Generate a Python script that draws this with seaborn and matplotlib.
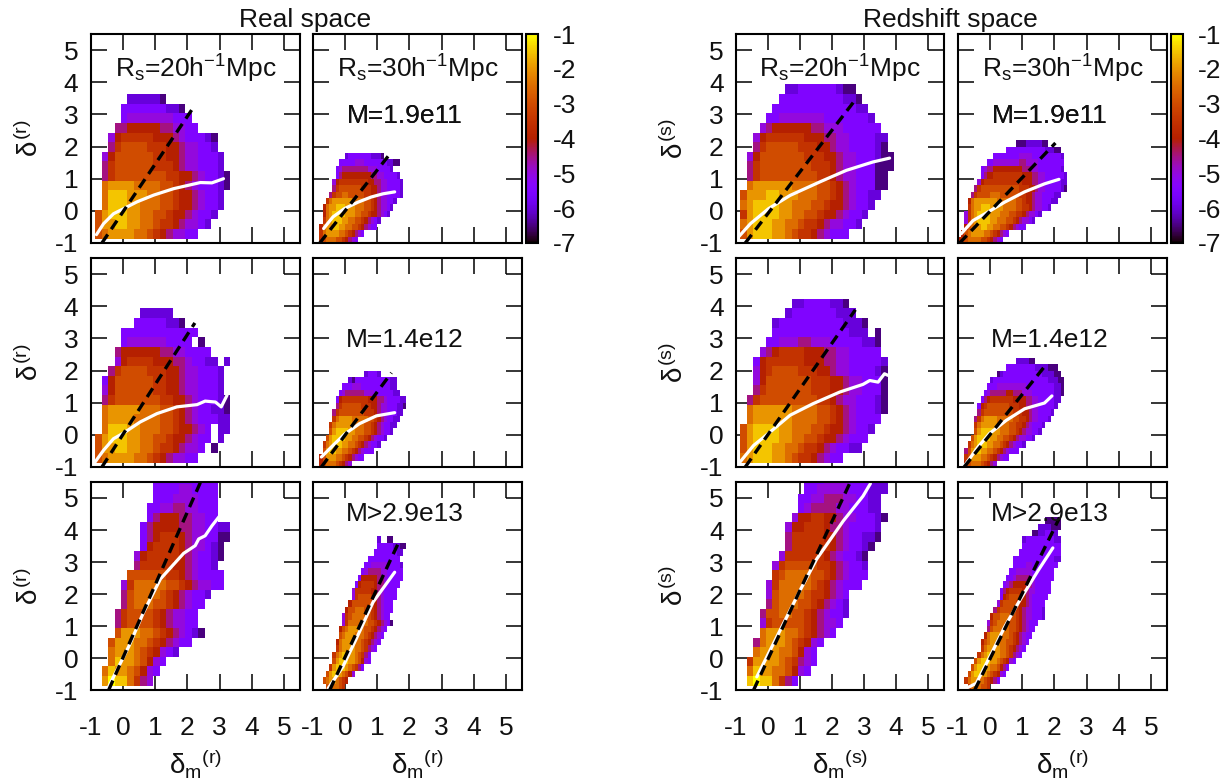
#!/usr/bin/env python3
"""Halo vs matter overdensity: conditional distributions, real and redshift space."""

import numpy as np
import pandas as pd
import matplotlib
matplotlib.use("Agg")
import matplotlib.pyplot as plt
import seaborn as sns

W, H = 1225, 781
# one character per cell, half-dex steps: '0' = -1, '1' = -1.5 ... 'c' = -7, '.' = empty
CODES = "0123456789abc"

# rows from the bottom: (first column, cell codes)
REAL_20_M1 = [
    (0, "4322223345678899"), (0, "42211223345567889a"), (0, "421112233445667899a"),
    (1, "311122333445667899a"), (1, "311122233445667899a"), (1, "322223333445678999ab"),
    (1, "754444444455667899ab"), (1, "754444445556788999a"), (1, "864444445566788999a"),
    (2, "7544445556678899a"), (2, "865555566678999ab"), (3, "7766666778899"),
    (4, "98888888999"), (4, "9999999aab"), (5, "aaaaab"),
]
REAL_30_M1 = [
    (2, "543334456789"), (2, "53222233456789"), (2, "632211223344567899"),
    (3, "53211122334456789a"), (3, "63211112223344566789a"), (3, "632211122233344567889a"),
    (4, "532222223333445678899a"), (5, "7544334444455667889999a"), (6, "754444444555667889999a"),
    (6, "865555555556677889999a"), (7, "9766666666677889999a"), (7, "98777777778889999a"),
    (8, "999998889999999aabb"), (10, "a9999999aaab"),
]
REAL_20_M2 = [
    (0, "4322223345678899"), (0, "42211223345567889.b"), (0, "421112233445667899.a"),
    (1, "31112233344566789.aa"), (1, "322223333445678999aa"), (1, "32222233344567899aab"),
    (1, "75444444455667899 9ab"), (1, "864444445566788999a"), (1, "964444445566788999a"),
    (2, "75444455566788999a"), (3, "86555566677899aa.a"), (3, "766666677889999"),
    (4, "98888889999.b"), (4, "999999999999"), (6, "99999aab"), (7, "aaaaa"),
]
REAL_30_M2 = [
    (2, "6433345678"), (2, "64222334567899"), (3, "4211223345678999"),
    (3, "53211122334567899a"), (4, "421111223344567899a"), (5, "4211112233344567899a"),
    (5, "5322222333344567899aa"), (6, "5322223333344567899aa"),
    (6, "75444444445556788999aa"), (7, "7544444455566788999aab"),
    (7, "96555555556667789999aa"), (8, "98777777888999999aa"),
    (9, "999888999999999aa"), (11, "ab99999999999aa"), (16, "a999a"),
]
REAL_20_M3 = [
    (1, "20113578"), (1, "312234689"), (2, "312234689"), (2, "3222345689a"),
    (2, "4222334567899"), (3, "422233456789ab"), (3, "7544445678899"), (3, "7544445678899"),
    (4, "7433344567899"), (4, "7433334567899a"), (4, "8533333445678899"), (5, "444444556789999"),
    (6, "755555667899a"), (6, "865555567899ab"), (7, "96555567889ab"), (7, "976555678899bb"),
    (7, "976666778899aa"), (8, "97666778899"), (8, "99887788999"), (9, "9998888999"),
    (9, "9999889999"), (9, "9999999999"),
]
REAL_30_M3 = [
    (4, "443345"), (3, "43223456"), (4, "421123468"), (5, "52111234579"),
    (6, "421112234689"), (6, "532112234579"), (7, "5322223345789"), (7, "63222233456789"),
    (8, "43222333456789"), (8, "643222334456789"), (9, "853333334456789b"), (9, "854333344567899"),
    (10, "644333445678999"), (11, "64444445678999"), (12, "85444456789999"), (12, "85555566789999"),
    (13, "96555567789999"), (14, "96666677899999"), (15, "9877778899999"), (16, "99888889999a"),
    (17, "9999999999"), (19, "9999999aa"), (20, "99999aabb"), (20, "a..bb"),
]
RED_20_M1 = [
    (0, "42111223455678999"), (0, "321112233455678899a"), (0, "5211112233445667899a"),
    (0, "32111122333445667899a"), (0, "42221122233344567899aa"), (1, "3222222333344567899 9bb"),
    (1, "75444444444556788999bb"), (1, "75444444445556788999bbb"), (1, "86444444455566788999abb"),
    (2, "754444455566788" + "9999ab"), (2, "865555556667788" + "9999aa"), (3, "8766666677888999999"),
    (4, "998888888" + "9999999a"), (5, "9999999999999aa"), (6, "9999999999aab"), (7, "aa999999abb"),
]
RED_30_M1 = [
    (0, "65433334456789"), (1, "643222233456789"), (2, "6432211223344567899"),
    (2, "8532111122333445678 89a"), (2, "853211112223334455678 89a"),
    (3, "53221112222333344556788 99a"), (3, "6322222223333334456678899 9aa"),
    (4, "7544443334444445566788 9999aa"), (5, "75444444444444555667889999 9ab"),
    (6, "8655555555555566677889999 9aa"), (7, "976655555555566677889999 99a"),
    (7, "98776666666667778899999 99a"), (9, "998888888877888899999999"),
    (11, "999999998888999999999a"), (15, "999999999999aaabb"), (18, "bbbaaaaabb"),
]
RED_20_M2 = [
    (0, "3211122345567899"), (0, "42111223345567899aa"), (0, "42111122334456678999"),
    (0, "42111122333445667899a"), (1, "322222233334456789999"), (1, "3222222333344" + "5678999ab"),
    (1, "75444444444" + "556788" + "999ab"), (2, "754444444555667" + "88999b"), (2, "864444444555667" + "88999b"),
    (2, "865444455566788" + "9999ab"), (2, "965555556667788" + "99999a"), (3, "8765555666778899999"),
    (4, "998887788899999aab"), (5, "999999999999aaa.b"), (5, "a9999999999aaab"),
    (7, "a9999999aaa"), (8, "aa9999aab"),
]
RED_30_M2 = [
    (2, "6433345678"), (2, "54222334567899"), (2, "74211223345678999"),
    (3, "53211122334567899a"), (4, "4211112233445678899a"), (5, "421111223334456788 99a"),
    (5, "5322222333344556789 99a"), (5, "7532222333334455 6788999a"),
    (6, "7544444444455566788 9999a"), (6, "9654444444555667788 9 9999a"),
    (7, "97655555556666778899 999aa"), (8, "9877777667778889999999aab"),
    (9, "999888888888999999999aab"), (10, "a99999999999999999aaabb"),
    (12, "ba999999999999aaaabb"), (15, "999999999aaaabbb"), (18, "aaaabb"),
]
RED_20_M3 = [
    (1, "10113579"), (1, "3122334689"), (1, "52222345789"), (2, "3222334689"),
    (2, "73222345689"), (3, "322233456789"), (3, "8544444567889"), (3, "74433445678" + "99a"),
    (4, "743334456789a"), (4, "8433334556789"), (4, "853333345678999"), (5, "543333445678999"),
    (5, "85444445567899a"), (6, "85555556789 9ab"), (7, "755555567899ab"), (7, "755555667899aab"),
    (7, "86655567789999a"), (8, "866556678899 9ab"), (9, "98777788999aa"), (9, "99887778899aa"),
    (10, "9988888999aaa"), (10, "9998888999aaa"),
]
RED_30_M3 = [
    (3, "5333445"), (2, "53223345679"), (3, "421122345689"), (4, "421112334679"),
    (5, "4211122345689"), (6, "53211223345789"), (7, "53222233456789"), (7, "643222334456789"),
    (8, "632223334567899"), (9, "743333344567899"), (9, "8543333445678999"), (10, "6443334456788999a"),
    (11, "754444456788999a"), (12, "854444566789999"), (13, "965444567899999"), (13, "9765555678899999"),
    (14, "987666677899999"), (15, "998777788999999"), (16, "99888889999999"), (17, "99998899999999"),
    (17, "9999999999999aa"), (19, "9999999999999"), (20, "999999999999"), (20, "a999999999aa"),
    (23, "bbaa99aa"), (25, "aaaabbb"), (27, "bbbbb"),
]

# smoothed mean relation (white) and linear bias line (dashed), one pair per panel
MEAN_X = {
    "r20m1": [-0.83, -0.61, -0.30, 0.02, 0.43, 0.95, 1.57, 2.40, 2.76, 3.12],
    "r30m1": [-0.67, -0.38, -0.02, 0.40, 0.81, 1.18, 1.54],
    "r20m2": [-0.87, -0.61, -0.30, 0.02, 0.53, 1.05, 1.67, 2.30, 2.55, 2.87, 3.05, 3.23],
    "r30m2": [-0.74, -0.38, -0.02, 0.45, 0.97, 1.54],
    "r20m3": [-0.45, -0.30, 0.17, 0.64, 1.16, 1.88, 2.24, 2.35, 2.55, 2.76, 3.04],
    "r30m3": [-0.53, -0.07, 0.35, 0.87, 1.54],
    "s20m1": [-0.92, -0.55, 0.02, 0.69, 1.62, 2.45, 3.28, 3.80],
    "s30m1": [-0.90, -0.53, -0.07, 0.45, 1.07, 1.69, 2.14],
    "s20m2": [-0.87, -0.45, 0.07, 0.69, 1.41, 2.24, 2.97, 3.18, 3.44, 3.64, 3.75],
    "s30m2": [-0.79, -0.38, -0.02, 0.50, 1.07, 1.69, 1.92],
    "s20m3": [-0.35, 0.38, 1.00, 1.52, 2.35, 2.97, 3.20],
    "s30m3": [-0.69, -0.43, 0.04, 0.45, 0.92, 1.49, 1.95],
}
MEAN_Y = {
    "r20m1": [-0.74, -0.40, -0.09, 0.07, 0.28, 0.49, 0.69, 0.88, 0.87, 1.00],
    "r30m1": [-0.55, -0.19, 0.07, 0.27, 0.43, 0.53, 0.59],
    "r20m2": [-0.84, -0.48, -0.12, 0.06, 0.40, 0.66, 0.87, 0.94, 1.05, 1.02, 0.87, 1.23],
    "r30m2": [-0.69, -0.33, 0.02, 0.35, 0.59, 0.69],
    "r20m3": [-0.90, -0.59, 0.35, 1.44, 2.47, 3.27, 3.51, 3.72, 3.82, 4.13, 4.49],
    "r30m3": [-0.95, -0.27, 0.61, 1.75, 2.68],
    "s20m1": [-0.81, -0.40, 0.07, 0.48, 0.90, 1.26, 1.52, 1.64],
    "s30m1": [-0.71, -0.30, -0.04, 0.27, 0.59, 0.84, 0.98],
    "s20m2": [-0.84, -0.33, 0.09, 0.61, 0.97, 1.33, 1.57, 1.69, 1.64, 1.90, 1.85],
    "s30m2": [-0.95, -0.38, 0.04, 0.45, 0.81, 0.99, 1.21],
    "s20m3": [-0.59, 0.87, 2.11, 3.09, 4.28, 5.06, 5.45],
    "s30m3": [-0.92, -0.79, 0.14, 0.97, 1.80, 2.73, 3.44],
}
BIAS_X = {"r20m1": [-0.66, 2.14], "r30m1": [-0.79, 1.44], "r20m2": [-0.66, 2.23], "r30m2": [-0.74, 1.44],
          "r20m3": [-0.45, 2.40], "r30m3": [-0.48, 1.64], "s20m1": [-0.71, 2.78], "s30m1": [-0.95, 2.03],
          "s20m2": [-0.71, 2.73], "s30m2": [-0.81, 1.72], "s20m3": [-0.45, 2.55], "s30m3": [-0.48, 2.16]}
BIAS_Y = {"r20m1": [-1.0, 3.15], "r30m1": [-1.0, 1.83], "r20m2": [-1.0, 3.48], "r30m2": [-1.0, 1.93],
          "r20m3": [-1.0, 5.48], "r30m3": [-1.0, 3.56], "s20m1": [-1.0, 3.52], "s30m1": [-1.0, 2.11],
          "s20m2": [-1.0, 3.89], "s30m2": [-1.0, 2.16], "s20m3": [-1.0, 5.45], "s30m3": [-1.0, 4.39]}

GRIDS = {"r20m1": REAL_20_M1, "r30m1": REAL_30_M1, "r20m2": REAL_20_M2, "r30m2": REAL_30_M2,
         "r20m3": REAL_20_M3, "r30m3": REAL_30_M3, "s20m1": RED_20_M1, "s30m1": RED_30_M1,
         "s20m2": RED_20_M2, "s30m2": RED_30_M2, "s20m3": RED_20_M3, "s30m3": RED_30_M3}

TICKS = [-1, 0, 1, 2, 3, 4, 5]
CBAR_TICKS = [-7, -6, -5, -4, -3, -2, -1]
MASS_LABELS = ["M=1.9e11", "M=1.4e12", "M>2.9e13"]
MASS_Y = [0.61, 0.61, 0.847]

COL_X = [(91, 300), (313, 522), (736, 944), (958, 1167)]
ROW_Y = [(34, 243), (258, 467), (482, 690)]
LIM = (-1.0, 5.5)
# bin layout: (x0, dx, y0, dy) of the 20 Mpc and 30 Mpc maps
BINS = {"20": (-0.865, 0.2, -0.865, 0.3), "30": (-1.0, 0.1, -1.0, 0.2)}
FS = 19


def rect(x0, x1, y0, y1):
    return [x0 / W, 1 - y1 / H, (x1 - x0) / W, (y1 - y0) / H]


def grid_frame(rows, smooth):
    x0, dx, y0, dy = BINS[smooth]
    nx = int(np.ceil((LIM[1] - x0) / dx))
    ny = int(np.ceil((LIM[1] - y0) / dy))
    vals = np.full((ny, nx), np.nan)
    for j, (start, codes) in enumerate(rows):
        for i, ch in enumerate(codes.replace(" ", "")):
            if ch != "." and start + i < nx:
                vals[j, start + i] = -1 - 0.5 * CODES.index(ch)
    return pd.DataFrame(vals)


def draw_panel(ax, key):
    smooth = key[1:3]
    x0, dx, y0, dy = BINS[smooth]
    sns.heatmap(grid_frame(GRIDS[key], smooth), ax=ax, cmap="gnuplot", vmin=-7, vmax=-1,
                cbar=False, xticklabels=False, yticklabels=False, square=False)
    to_x = lambda v: (np.asarray(v) - x0) / dx
    to_y = lambda v: (np.asarray(v) - y0) / dy
    ax.plot(to_x(MEAN_X[key]), to_y(MEAN_Y[key]), color="white", lw=2.3, solid_capstyle="round")
    ax.plot(to_x(BIAS_X[key]), to_y(BIAS_Y[key]), color="black", lw=2.4, dashes=(3.1, 1.9))
    ax.set_xlim(to_x(LIM[0]), to_x(LIM[1]))
    ax.set_ylim(to_y(LIM[0]), to_y(LIM[1]))
    ax.set_xticks(to_x(TICKS))
    ax.set_yticks(to_y(TICKS))
    ax.tick_params(direction="in", length=11.5, width=1.1, top=True, right=True,
                   labelsize=FS, labelcolor="#111111", color="black")
    ax.tick_params(axis="x", pad=19)
    ax.tick_params(axis="y", pad=9)
    ax.set_xticklabels([])
    ax.set_yticklabels([])
    ax.set_xlabel("")
    ax.set_ylabel("")
    for sp in ax.spines.values():
        sp.set_visible(True)
        sp.set_linewidth(1.5)
        sp.set_color("black")


def main():
    sns.set_theme(style="ticks")
    plt.rcParams["font.family"] = ["Liberation Sans", "DejaVu Sans"]
    plt.rcParams["mathtext.fontset"] = "custom"
    plt.rcParams["mathtext.rm"] = "Liberation Sans"
    plt.rcParams["mathtext.it"] = "Liberation Sans"
    plt.rcParams["mathtext.bf"] = "Liberation Sans:bold"

    fig = plt.figure(figsize=(W / 100, H / 100), dpi=100)
    for c, (prefix, sup) in enumerate([("r", "r"), ("r", "r"), ("s", "s"), ("s", "s")]):
        smooth = "20" if c % 2 == 0 else "30"
        for r in range(3):
            key = f"{prefix}{smooth}m{r + 1}"
            ax = fig.add_axes(rect(*COL_X[c], *ROW_Y[r]))
            draw_panel(ax, key)
            if c % 2 == 0:
                ax.set_yticklabels([str(t) for t in TICKS])
                fig.text((COL_X[c][0] - 61) / W, 1 - sum(ROW_Y[r]) / 2 / H,
                         rf"$\delta^{{\rm ({sup})}}$", rotation=90, ha="center", va="center",
                         fontsize=FS + 1, color="#111111")
            if r == 2:
                ax.set_xticklabels([str(t) for t in TICKS])
                xsup = sup if (c % 2 == 0) else "r"
                fig.text(sum(COL_X[c]) / 2 / W, 1 - 763 / H, rf"$\delta_{{\rm m}}{{}}^{{\rm ({xsup})}}$",
                         ha="center", va="center", fontsize=FS + 1, color="#111111")
            if r == 0:
                ax.text(0.5, 0.835, rf"R$_{{\rm s}}$={smooth}h$^{{-1}}$Mpc", transform=ax.transAxes,
                        ha="center", va="center", fontsize=FS, color="#111111")
            if c % 2 == 1:
                # the top-row mass labels are overprinted in the original, so they read heavier
                for _ in range(2 if r == 0 else 1):
                    ax.text(0.44, MASS_Y[r], MASS_LABELS[r], transform=ax.transAxes,
                            ha="center", va="center", fontsize=FS, color="#111111")
            if r == 0 and c % 2 == 1:
                cax = fig.add_axes(rect(COL_X[c][1] + 4, COL_X[c][1] + 16, *ROW_Y[0]))
                cb = fig.colorbar(ax.collections[0], cax=cax, ticks=CBAR_TICKS)
                cb.ax.set_yticklabels([str(t) for t in CBAR_TICKS])
                cb.ax.tick_params(direction="in", length=8.6, width=1.1, labelsize=FS, pad=11,
                                  labelcolor="#111111", color="black", right=True)
                cb.outline.set_linewidth(1.5)
                cb.outline.set_edgecolor("black")

    fig.text(305 / W, 1 - 20 / H, "Real space", ha="center", va="center", fontsize=FS, color="#111111")
    fig.text(950 / W, 1 - 20 / H, "Redshift space", ha="center", va="center", fontsize=FS, color="#111111")

    fig.savefig("out.png", dpi=100)
    plt.close(fig)


if __name__ == "__main__":
    main()
